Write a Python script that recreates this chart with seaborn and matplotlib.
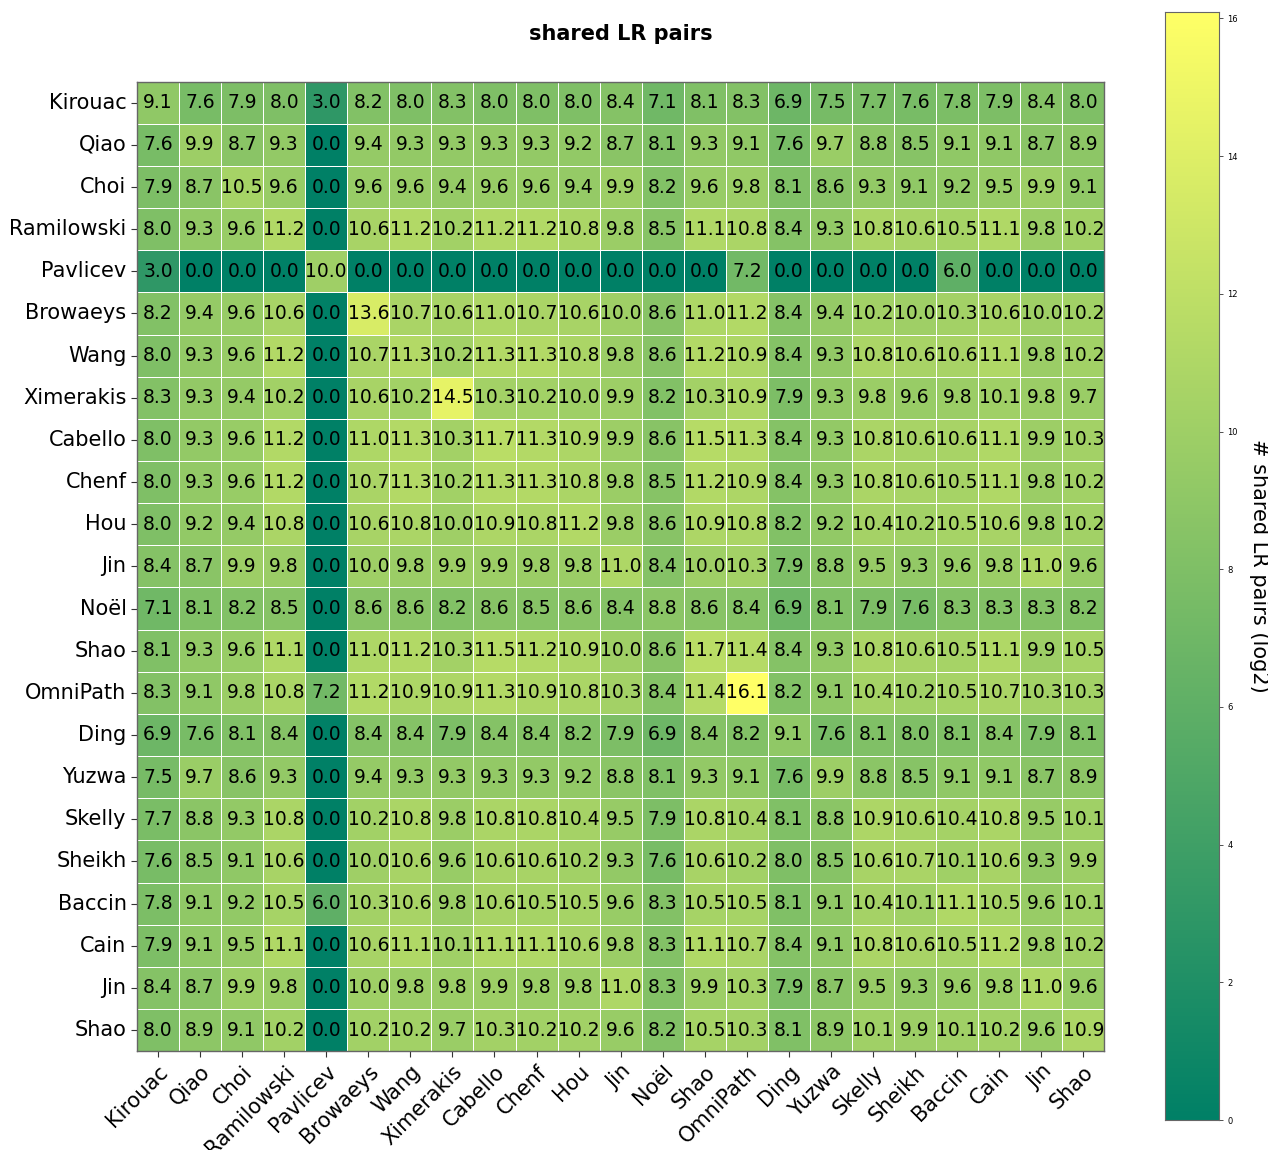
import numpy as np
import pandas as pd
import matplotlib
matplotlib.use("Agg")
import matplotlib.pyplot as plt
import seaborn as sns

labels = ["Kirouac", "Qiao", "Choi", "Ramilowski", "Pavlicev", "Browaeys", "Wang",
          "Ximerakis", "Cabello", "Chenf", "Hou", "Jin", "Noël", "Shao", "OmniPath",
          "Ding", "Yuzwa", "Skelly", "Sheikh", "Baccin", "Cain", "Jin", "Shao"]

row_kirouac = [9.1, 7.6, 7.9, 8.0, 3.0, 8.2, 8.0, 8.3, 8.0, 8.0, 8.0, 8.4, 7.1, 8.1, 8.3, 6.9, 7.5, 7.7, 7.6, 7.8, 7.9, 8.4, 8.0]
row_qiao = [7.6, 9.9, 8.7, 9.3, 0.0, 9.4, 9.3, 9.3, 9.3, 9.3, 9.2, 8.7, 8.1, 9.3, 9.1, 7.6, 9.7, 8.8, 8.5, 9.1, 9.1, 8.7, 8.9]
row_choi = [7.9, 8.7, 10.5, 9.6, 0.0, 9.6, 9.6, 9.4, 9.6, 9.6, 9.4, 9.9, 8.2, 9.6, 9.8, 8.1, 8.6, 9.3, 9.1, 9.2, 9.5, 9.9, 9.1]
row_ramilowski = [8.0, 9.3, 9.6, 11.2, 0.0, 10.6, 11.2, 10.2, 11.2, 11.2, 10.8, 9.8, 8.5, 11.1, 10.8, 8.4, 9.3, 10.8, 10.6, 10.5, 11.1, 9.8, 10.2]
row_pavlicev = [3.0, 0.0, 0.0, 0.0, 10.0, 0.0, 0.0, 0.0, 0.0, 0.0, 0.0, 0.0, 0.0, 0.0, 7.2, 0.0, 0.0, 0.0, 0.0, 6.0, 0.0, 0.0, 0.0]
row_browaeys = [8.2, 9.4, 9.6, 10.6, 0.0, 13.6, 10.7, 10.6, 11.0, 10.7, 10.6, 10.0, 8.6, 11.0, 11.2, 8.4, 9.4, 10.2, 10.0, 10.3, 10.6, 10.0, 10.2]
row_wang = [8.0, 9.3, 9.6, 11.2, 0.0, 10.7, 11.3, 10.2, 11.3, 11.3, 10.8, 9.8, 8.6, 11.2, 10.9, 8.4, 9.3, 10.8, 10.6, 10.6, 11.1, 9.8, 10.2]
row_ximerakis = [8.3, 9.3, 9.4, 10.2, 0.0, 10.6, 10.2, 14.5, 10.3, 10.2, 10.0, 9.9, 8.2, 10.3, 10.9, 7.9, 9.3, 9.8, 9.6, 9.8, 10.1, 9.8, 9.7]
row_cabello = [8.0, 9.3, 9.6, 11.2, 0.0, 11.0, 11.3, 10.3, 11.7, 11.3, 10.9, 9.9, 8.6, 11.5, 11.3, 8.4, 9.3, 10.8, 10.6, 10.6, 11.1, 9.9, 10.3]
row_chenf = [8.0, 9.3, 9.6, 11.2, 0.0, 10.7, 11.3, 10.2, 11.3, 11.3, 10.8, 9.8, 8.5, 11.2, 10.9, 8.4, 9.3, 10.8, 10.6, 10.5, 11.1, 9.8, 10.2]
row_hou = [8.0, 9.2, 9.4, 10.8, 0.0, 10.6, 10.8, 10.0, 10.9, 10.8, 11.2, 9.8, 8.6, 10.9, 10.8, 8.2, 9.2, 10.4, 10.2, 10.5, 10.6, 9.8, 10.2]
row_jin = [8.4, 8.7, 9.9, 9.8, 0.0, 10.0, 9.8, 9.9, 9.9, 9.8, 9.8, 11.0, 8.4, 10.0, 10.3, 7.9, 8.8, 9.5, 9.3, 9.6, 9.8, 11.0, 9.6]
row_noel = [7.1, 8.1, 8.2, 8.5, 0.0, 8.6, 8.6, 8.2, 8.6, 8.5, 8.6, 8.4, 8.8, 8.6, 8.4, 6.9, 8.1, 7.9, 7.6, 8.3, 8.3, 8.3, 8.2]
row_shao = [8.1, 9.3, 9.6, 11.1, 0.0, 11.0, 11.2, 10.3, 11.5, 11.2, 10.9, 10.0, 8.6, 11.7, 11.4, 8.4, 9.3, 10.8, 10.6, 10.5, 11.1, 9.9, 10.5]
row_omnipath = [8.3, 9.1, 9.8, 10.8, 7.2, 11.2, 10.9, 10.9, 11.3, 10.9, 10.8, 10.3, 8.4, 11.4, 16.1, 8.2, 9.1, 10.4, 10.2, 10.5, 10.7, 10.3, 10.3]
row_ding = [6.9, 7.6, 8.1, 8.4, 0.0, 8.4, 8.4, 7.9, 8.4, 8.4, 8.2, 7.9, 6.9, 8.4, 8.2, 9.1, 7.6, 8.1, 8.0, 8.1, 8.4, 7.9, 8.1]
row_yuzwa = [7.5, 9.7, 8.6, 9.3, 0.0, 9.4, 9.3, 9.3, 9.3, 9.3, 9.2, 8.8, 8.1, 9.3, 9.1, 7.6, 9.9, 8.8, 8.5, 9.1, 9.1, 8.7, 8.9]
row_skelly = [7.7, 8.8, 9.3, 10.8, 0.0, 10.2, 10.8, 9.8, 10.8, 10.8, 10.4, 9.5, 7.9, 10.8, 10.4, 8.1, 8.8, 10.9, 10.6, 10.4, 10.8, 9.5, 10.1]
row_sheikh = [7.6, 8.5, 9.1, 10.6, 0.0, 10.0, 10.6, 9.6, 10.6, 10.6, 10.2, 9.3, 7.6, 10.6, 10.2, 8.0, 8.5, 10.6, 10.7, 10.1, 10.6, 9.3, 9.9]
row_baccin = [7.8, 9.1, 9.2, 10.5, 6.0, 10.3, 10.6, 9.8, 10.6, 10.5, 10.5, 9.6, 8.3, 10.5, 10.5, 8.1, 9.1, 10.4, 10.1, 11.1, 10.5, 9.6, 10.1]
row_cain = [7.9, 9.1, 9.5, 11.1, 0.0, 10.6, 11.1, 10.1, 11.1, 11.1, 10.6, 9.8, 8.3, 11.1, 10.7, 8.4, 9.1, 10.8, 10.6, 10.5, 11.2, 9.8, 10.2]
row_jin2 = [8.4, 8.7, 9.9, 9.8, 0.0, 10.0, 9.8, 9.8, 9.9, 9.8, 9.8, 11.0, 8.3, 9.9, 10.3, 7.9, 8.7, 9.5, 9.3, 9.6, 9.8, 11.0, 9.6]
row_shao2 = [8.0, 8.9, 9.1, 10.2, 0.0, 10.2, 10.2, 9.7, 10.3, 10.2, 10.2, 9.6, 8.2, 10.5, 10.3, 8.1, 8.9, 10.1, 9.9, 10.1, 10.2, 9.6, 10.9]

matrix = np.array([row_kirouac, row_qiao, row_choi, row_ramilowski, row_pavlicev,
                   row_browaeys, row_wang, row_ximerakis, row_cabello, row_chenf,
                   row_hou, row_jin, row_noel, row_shao, row_omnipath, row_ding,
                   row_yuzwa, row_skelly, row_sheikh, row_baccin, row_cain,
                   row_jin2, row_shao2])

sns.set_style("white")
plt.rcParams['font.family'] = ['DejaVu Sans']
plt.rcParams['text.color'] = 'black'
plt.rcParams['axes.labelcolor'] = 'black'
plt.rcParams['xtick.color'] = '#333333'
plt.rcParams['ytick.color'] = '#333333'
plt.rcParams['xtick.labelcolor'] = 'black'
plt.rcParams['ytick.labelcolor'] = 'black'

fig = plt.figure(figsize=(12.68, 11.5), dpi=100)
ax = fig.add_axes([0.108, 0.086, 0.763, 0.843])
cax = fig.add_axes([0.919, 0.026, 0.042, 0.964])

sns.heatmap(matrix, ax=ax, cbar_ax=cax, cmap="summer", vmin=0, vmax=matrix.max(),
            annot=True, fmt=".1f", annot_kws={"fontsize": 13.5, "color": "black"},
            linewidths=0.5, linecolor="white", square=False,
            xticklabels=labels, yticklabels=labels,
            cbar_kws={"label": "# shared LR pairs (log2)"})

ax.set_title("shared LR pairs", fontsize=15, fontweight="bold", pad=30, color="black")
ax.tick_params(axis="both", which="both", length=4, width=0.8,
               left=True, bottom=True, labelsize=15)
ax.set_xticklabels(labels, rotation=45, ha="right", rotation_mode="anchor", fontsize=15)
ax.set_yticklabels(labels, rotation=0, fontsize=15)
for sp in ax.spines.values():
    sp.set_visible(True)
    sp.set_color("#666666")
    sp.set_linewidth(1)

cax.tick_params(labelsize=6, length=3, width=0.6)
cax.yaxis.label.set_size(15)
cax.yaxis.label.set_rotation(270)
cax.yaxis.labelpad = 22
for sp in cax.spines.values():
    sp.set_visible(True)
    sp.set_color("#666666")

fig.savefig("out.png", dpi=100)
